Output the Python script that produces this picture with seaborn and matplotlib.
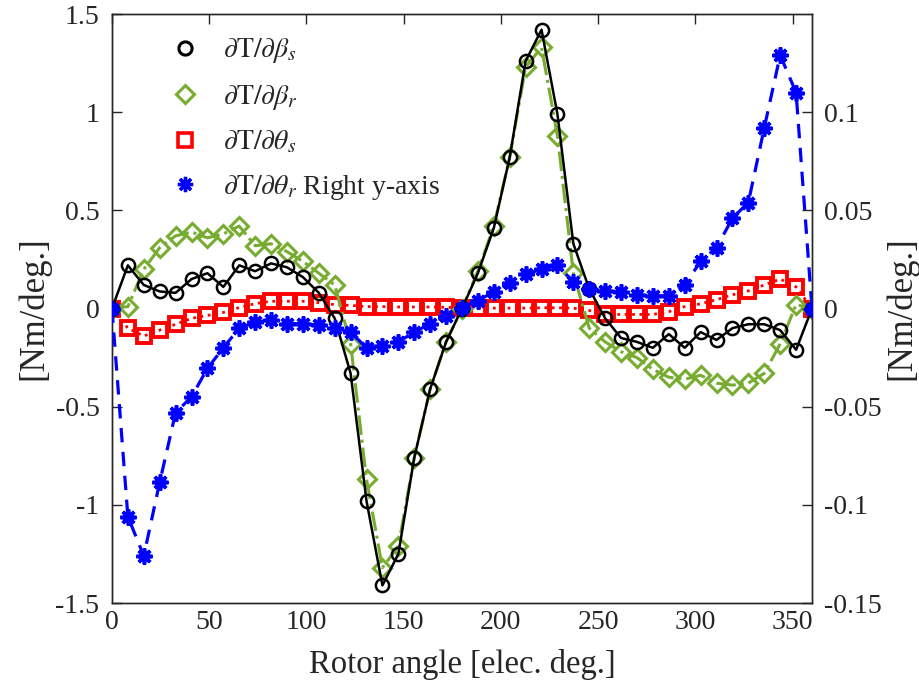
import numpy as np
import pandas as pd
import matplotlib
matplotlib.use("Agg")
import matplotlib.pyplot as plt
from matplotlib.lines import Line2D
import seaborn as sns

# ---------------- data ----------------
angle = np.linspace(0, 360, 45)

dT_dbeta_s = [0.0, 0.22, 0.12, 0.087, 0.08, 0.15, 0.18, 0.11, 0.22, 0.19,
              0.23, 0.21, 0.16, 0.08, -0.05, -0.33, -0.98, -1.41, -1.25, -0.76,
              -0.41, -0.17, 0.0, 0.18, 0.41, 0.77, 1.26, 1.42, 0.99, 0.33,
              0.10, -0.05, -0.15, -0.17, -0.20, -0.13, -0.20, -0.12, -0.16, -0.10,
              -0.08, -0.08, -0.11, -0.21, 0.0]

dT_dbeta_r = [0.0, 0.01, 0.20, 0.31, 0.37, 0.39, 0.36, 0.38, 0.42, 0.32,
              0.33, 0.29, 0.24, 0.18, 0.12, -0.18, -0.87, -1.32, -1.21, -0.76,
              -0.41, -0.17, 0.0, 0.19, 0.42, 0.77, 1.23, 1.33, 0.88, 0.18,
              -0.10, -0.17, -0.22, -0.25, -0.31, -0.35, -0.36, -0.34, -0.38, -0.39,
              -0.38, -0.33, -0.18, 0.02, 0.0]

dT_dtheta_s = [0.0, -0.10, -0.14, -0.11, -0.08, -0.05, -0.035, -0.02, 0.005, 0.025,
               0.037, 0.037, 0.037, 0.03, 0.02, 0.016, 0.01, 0.01, 0.008, 0.008,
               0.008, 0.006, 0.004, 0.002, 0.002, 0.002, 0.002, 0.004, 0.004, 0.002,
               -0.01, -0.03, -0.03, -0.03, -0.03, -0.016, 0.01, 0.024, 0.045, 0.07,
               0.09, 0.12, 0.15, 0.11, 0.0]

# right y-axis
dT_dtheta_r = [0.0, -0.106, -0.126, -0.0885, -0.053, -0.045, -0.0305, -0.020, -0.010, -0.007,
               -0.0057, -0.0077, -0.0077, -0.0085, -0.010, -0.012, -0.020, -0.019, -0.017, -0.012,
               -0.0077, -0.0037, 0.0005, 0.004, 0.0085, 0.013, 0.0175, 0.020, 0.022, 0.0137,
               0.010, 0.009, 0.0085, 0.007, 0.0065, 0.0065, 0.012, 0.024, 0.031, 0.046,
               0.054, 0.092, 0.129, 0.110, 0.0]

labels = [r"$\partial \mathrm{T}/\partial\beta_s$",
          r"$\partial \mathrm{T}/\partial\beta_r$",
          r"$\partial \mathrm{T}/\partial\theta_s$",
          r"$\partial \mathrm{T}/\partial\theta_r$ Right y-axis"]

left_ticks = [-1.5, -1, -0.5, 0, 0.5, 1, 1.5]
left_ticklabels = ["-1.5", "-1", "-0.5", "0", "0.5", "1", "1.5"]
right_ticks = [-0.15, -0.1, -0.05, 0, 0.05, 0.1]
right_ticklabels = ["-0.15", "-0.1", "-0.05", "0", "0.05", "0.1"]
x_ticks = [0, 50, 100, 150, 200, 250, 300, 350]

df = pd.DataFrame({"angle": angle, "bs": dT_dbeta_s, "br": dT_dbeta_r,
                   "ts": dT_dtheta_s, "tr": dT_dtheta_r})

# ---------------- style ----------------
sns.set_style("white")
plt.rcParams["font.family"] = ["Liberation Serif", "DejaVu Serif"]
plt.rcParams["mathtext.fontset"] = "stix"
txt = "#262626"

fig = plt.figure(figsize=(9.2, 6.9), dpi=100)
ax = fig.add_axes([0.1217, 0.126, 0.7609, 0.8537])
ax2 = ax.twinx()

GREEN = "#77AC30"
star = (8, 2, 0)

sns.lineplot(data=df, x="angle", y="ts", ax=ax, color="red", linestyle=":",
             linewidth=2, marker="s", markersize=10.5, markerfacecolor="none",
             markeredgecolor="red", markeredgewidth=2.8, zorder=2)
sns.lineplot(data=df, x="angle", y="br", ax=ax, color=GREEN, linestyle="-.",
             linewidth=2.2, marker="D", markersize=9.5, markerfacecolor="none",
             markeredgecolor=GREEN, markeredgewidth=2.2, zorder=3)
sns.lineplot(data=df, x="angle", y="bs", ax=ax, color="black", linestyle="-",
             linewidth=1.8, marker="o", markersize=9.5, markerfacecolor="none",
             markeredgecolor="black", markeredgewidth=1.8, zorder=4)
sns.lineplot(data=df, x="angle", y="tr", ax=ax2, color="blue", linestyle=(0, (4.5, 3)),
             linewidth=2.3, marker=star, markersize=11.5, markeredgecolor="blue",
             markerfacecolor="blue", markeredgewidth=2.6, zorder=5)

ax.set_xlim(0, 360)
ax.set_ylim(-1.5, 1.5)
ax2.set_ylim(-0.15, 0.15)
ax.set_xticks(x_ticks)
ax.set_xticklabels([str(t) for t in x_ticks])
ax.set_yticks(left_ticks)
ax.set_yticklabels(left_ticklabels)
ax2.set_yticks(right_ticks)
ax2.set_yticklabels(right_ticklabels)

ax.set_xlabel("Rotor angle [elec. deg.]", fontsize=23.5, color=txt, labelpad=10)
ax.set_ylabel("[Nm/deg.]", fontsize=25, color=txt, labelpad=4)
ax2.set_ylabel("[Nm/deg.]", fontsize=25, color=txt, labelpad=2)

ax.tick_params(axis="both", direction="in", length=7, width=1, labelsize=20,
               colors=txt, labelcolor=txt, top=True, right=False, pad=9)
ax.tick_params(axis="x", pad=5)
ax2.tick_params(axis="y", direction="in", length=7, width=1, labelsize=20,
                colors=txt, labelcolor=txt, pad=9)
for a in (ax, ax2):
    for s in a.spines.values():
        s.set_color(txt)
        s.set_linewidth(1)
ax2.set_xlabel("")

handles = [
    Line2D([], [], linestyle="none", marker="o", markersize=9.5, markerfacecolor="none",
           markeredgecolor="black", markeredgewidth=2.2),
    Line2D([], [], linestyle="none", marker="D", markersize=9.5, markerfacecolor="none",
           markeredgecolor=GREEN, markeredgewidth=2.2),
    Line2D([], [], linestyle="none", marker="s", markersize=10, markerfacecolor="none",
           markeredgecolor="red", markeredgewidth=2.6),
    Line2D([], [], linestyle="none", marker=star, markersize=11, markerfacecolor="blue",
           markeredgecolor="blue", markeredgewidth=2.4),
]
leg = ax2.legend(handles, labels, loc="upper left", bbox_to_anchor=(0.089, 0.962),
                 frameon=False, fontsize=20, handlelength=0.8, handletextpad=0.95,
                 labelspacing=0.62, borderaxespad=0, borderpad=0)
for t in leg.get_texts():
    t.set_color(txt)

fig.savefig("out.png", dpi=100)
